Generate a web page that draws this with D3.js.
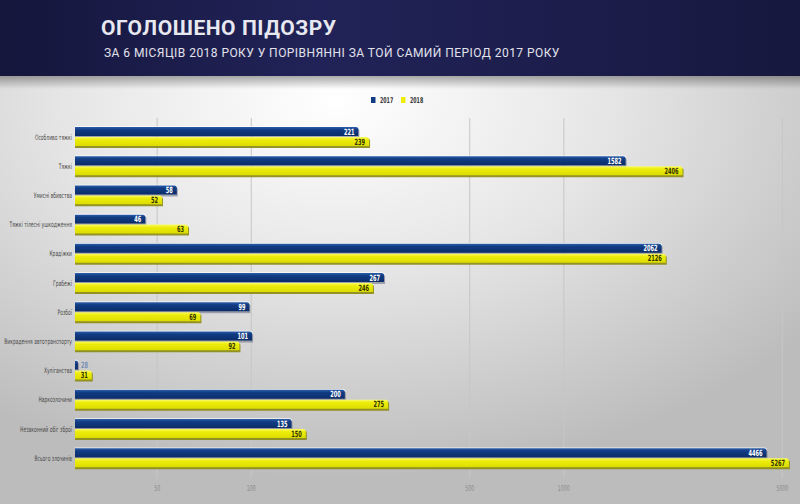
<!DOCTYPE html>
<html lang="uk">
<head>
  <meta charset="UTF-8">
  <style>
    html, body { margin: 0; padding: 0; background: #c4c4c4; }
    svg { display: block; }
    .title { fill: #e8e8f0; font-family: Roboto, "Open Sans", sans-serif; font-weight: bold; }
    .subtitle { fill: #e2e2ec; font-family: Roboto, "Open Sans", sans-serif; }
    .cat { fill: #4a4a4a; font-family: "DejaVu Sans Condensed", sans-serif; font-size: 7.5px; }
    .val { font-family: "DejaVu Sans Condensed", sans-serif; font-size: 8.5px; font-weight: bold; }
    .tick-label { fill: #8a8a8a; font-family: "DejaVu Sans Condensed", sans-serif; font-size: 8px; }
    .legend { fill: #333; font-family: "DejaVu Sans Condensed", sans-serif; font-size: 8px; font-weight: bold; }
  </style>
  <title>Оголошено підозру</title>
  <script src="https://d3js.org/d3.v7.min.js"></script>
</head>
<body>
<svg id="chart"></svg>
<script>

const categories = [
  'Особливо тяжкі', 'Тяжкі', 'Умисні вбивства', 'Тяжкі тілесні ушкодження',
  'Крадіжки', 'Грабежі', 'Розбої', 'Викрадення автотранспорту',
  'Хуліганства', 'Наркозлочини', 'Незаконний обіг зброї', 'Всього злочинів'
];
const years = ['2017', '2018'];
const values2017 = [221, 1582, 58, 46, 2062, 267, 99, 101, 28, 200, 135, 4466];
const values2018 = [239, 2406, 52, 63, 2126, 246, 69, 92, 31, 275, 150, 5267];
const tickValues = [50, 100, 500, 1000, 5000];

const data = categories.map(function(c, i) {
  return {name: c, values: [
    {year: '2017', value: values2017[i]},
    {year: '2018', value: values2018[i]}
  ]};
});

const size = {width: 800, height: 504};
const svg = d3.select('#chart')
              .attr('width', size.width)
              .attr('height', size.height);
const defs = svg.append('defs');

// the original uses a very narrow font, squeeze ours horizontally
const squeeze = 0.66;
function narrowAt(x, y) {
  return 'translate(' + x + ',' + y + ') scale(' + squeeze + ',1)';
}

// page background: light in the middle, grey towards the edges
const bg = defs.append('radialGradient')
    .attr('id', 'bg')
    .attr('cx', 0.42).attr('cy', 0.2)
    .attr('r', 0.75);
bg.append('stop').attr('offset', '0%').attr('stop-color', '#ffffff');
bg.append('stop').attr('offset', '45%').attr('stop-color', '#e6e6e6');
bg.append('stop').attr('offset', '100%').attr('stop-color', '#bcbcbc');

const head = defs.append('linearGradient')
    .attr('id', 'head')
    .attr('x1', 0).attr('x2', 1).attr('y1', 0).attr('y2', 0);
head.append('stop').attr('offset', '0%').attr('stop-color', '#15163c');
head.append('stop').attr('offset', '40%').attr('stop-color', '#212358');
head.append('stop').attr('offset', '100%').attr('stop-color', '#17183f');

const headShadow = defs.append('linearGradient')
    .attr('id', 'headShadow')
    .attr('x1', 0).attr('x2', 0).attr('y1', 0).attr('y2', 1);
headShadow.append('stop').attr('offset', '0%').attr('stop-color', '#000').attr('stop-opacity', 0.35);
headShadow.append('stop').attr('offset', '100%').attr('stop-color', '#000').attr('stop-opacity', 0);

const barGrad = {
  '2017': ['#2c5ea8', '#113c84', '#0b2d68'],
  '2018': ['#fbfb6a', '#eded0c', '#dcdc00']
};
years.forEach(function(y) {
  const g = defs.append('linearGradient')
      .attr('id', 'bar' + y)
      .attr('x1', 0).attr('x2', 0).attr('y1', 0).attr('y2', 1);
  g.append('stop').attr('offset', '0%').attr('stop-color', barGrad[y][0]);
  g.append('stop').attr('offset', '30%').attr('stop-color', barGrad[y][1]);
  g.append('stop').attr('offset', '100%').attr('stop-color', barGrad[y][2]);
});

svg.append('rect')
    .attr('width', size.width).attr('height', size.height)
    .attr('fill', 'url(#bg)');
svg.append('rect')
    .attr('y', 75).attr('width', size.width).attr('height', 14)
    .attr('fill', 'url(#headShadow)');
svg.append('rect')
    .attr('width', size.width).attr('height', 76)
    .attr('fill', 'url(#head)');

svg.append('text')
    .attr('class', 'title')
    .attr('x', 101).attr('y', 35)
    .attr('font-size', 21)
    .attr('letter-spacing', 0.55)
    .text('ОГОЛОШЕНО ПІДОЗРУ');
svg.append('text')
    .attr('class', 'subtitle')
    .attr('x', 104).attr('y', 57)
    .attr('font-size', 12)
    .attr('letter-spacing', 0.45)
    .text('ЗА 6 МІСЯЦІВ 2018 РОКУ У ПОРІВНЯННІ ЗА ТОЙ САМИЙ ПЕРІОД 2017 РОКУ');

const xScale = d3.scaleLog()
                 .domain([27.4, 5716])
                 .range([75, 800]);
const yScale = d3.scaleBand()
                 .domain(categories)
                 .range([122.4, 472.8])
                 .paddingInner(0.32)
                 .paddingOuter(0.16);
const subScale = d3.scaleBand()
                   .domain(years)
                   .range([0, yScale.bandwidth()]);
const colors = {'2017': '#123d85', '2018': '#eeee0a'};

// vertical grid + tick labels
const xAxis = d3.axisBottom(xScale)
                .tickValues(tickValues)
                .tickFormat(d3.format('d'))
                .tickSize(-(478 - 118));
const axisG = svg.append('g')
    .attr('transform', 'translate(0,478)')
    .call(xAxis);
axisG.select('.domain').remove();
axisG.selectAll('.tick line')
    .attr('stroke', '#c6c6c6')
    .attr('stroke-width', 1);
axisG.selectAll('.tick text')
    .attr('class', 'tick-label')
    .attr('y', null)
    .attr('dy', null)
    .attr('transform', narrowAt(0, 13))
    .attr('fill', null);

// legend
const legend = svg.append('g').attr('transform', 'translate(371,97)');
years.forEach(function(y, i) {
  const lg = legend.append('g').attr('transform', 'translate(' + (i * 30) + ',0)');
  lg.append('rect').attr('width', 4.5).attr('height', 6).attr('fill', colors[y]);
  lg.append('text').attr('class', 'legend')
    .attr('transform', narrowAt(9, 3))
    .attr('dy', '0.35em')
    .text(y);
});

// category labels
svg.append('g').selectAll('text')
    .data(categories)
    .enter()
    .append('text')
    .attr('class', 'cat')
    .attr('transform', function(d) {
      return narrowAt(72, yScale(d) + yScale.bandwidth() / 2);
    })
    .attr('dy', '0.35em')
    .attr('text-anchor', 'end')
    .text(function(d) { return d; });

const groups = svg.append('g').selectAll('g')
    .data(data)
    .enter()
    .append('g')
    .attr('transform', function(d) { return 'translate(0,' + yScale(d.name) + ')'; });

function barPath(x0, x1, y0, h) {
  const r = Math.min(2.5, (x1 - x0) / 2);
  return 'M' + x0 + ',' + y0 +
         'H' + (x1 - r) +
         'Q' + x1 + ',' + y0 + ' ' + x1 + ',' + (y0 + r) +
         'V' + (y0 + h) +
         'H' + x0 + 'Z';
}

const bars = groups.selectAll('g')
    .data(function(d) { return d.values; })
    .enter()
    .append('g');

// thin light edge on top + drop shadows
bars.filter(function(d) { return d.year === '2017'; })
    .append('path')
    .attr('fill', '#ffffff')
    .attr('opacity', 0.8)
    .attr('d', function(d) {
      return barPath(xScale.range()[0], xScale(d.value) + 0.5, subScale(d.year) - 0.8, 3);
    });
bars.append('path')
    .attr('fill', function(d) { return d.year === '2018' ? '#8a8a12' : '#5a5f78'; })
    .attr('opacity', function(d) { return d.year === '2018' ? 0.9 : 0.5; })
    .attr('d', function(d) {
      return barPath(xScale.range()[0], xScale(d.value) + 1, subScale(d.year) + 1.5, subScale.bandwidth() - 0.5);
    });
bars.append('path')
    .attr('fill', function(d) { return 'url(#bar' + d.year + ')'; })
    .attr('d', function(d) {
      return barPath(xScale.range()[0], xScale(d.value), subScale(d.year), subScale.bandwidth() - 1);
    });

function isTiny(d) { return xScale(d.value) - xScale.range()[0] < 12; }

bars.append('text')
    .attr('class', 'val')
    .attr('transform', function(d) {
      const x = isTiny(d) ? xScale(d.value) + 3 : xScale(d.value) - 4;
      return narrowAt(x, subScale(d.year) + subScale.bandwidth() / 2);
    })
    .attr('dy', '0.3em')
    .attr('text-anchor', function(d) { return isTiny(d) ? 'start' : 'end'; })
    .attr('fill', function(d) {
      if (d.year === '2017') return isTiny(d) ? '#7a8fb8' : '#ffffff';
      return '#333300';
    })
    .text(function(d) { return d.value; });

</script>
</body>
</html>
